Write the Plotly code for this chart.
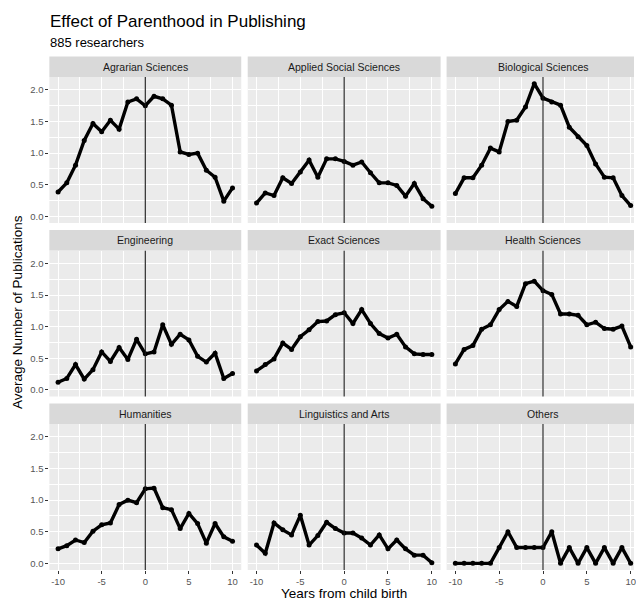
import plotly.graph_objects as go

# ---------------- data ----------------
years = list(range(-10, 11))

panel_titles = ["Agrarian Sciences", "Applied Social Sciences", "Biological Sciences",
                "Engineering", "Exact Sciences", "Health Sciences",
                "Humanities", "Linguistics and Arts", "Others"]

agrarian = [0.385, 0.53, 0.81, 1.20, 1.47, 1.34, 1.52, 1.38, 1.81, 1.86, 1.75,
            1.90, 1.86, 1.76, 1.02, 0.98, 1.00, 0.73, 0.62, 0.24, 0.45]
applied = [0.21, 0.37, 0.33, 0.61, 0.52, 0.70, 0.89, 0.62, 0.91, 0.91, 0.87,
           0.81, 0.86, 0.69, 0.53, 0.53, 0.49, 0.32, 0.52, 0.28, 0.16]
biological = [0.36, 0.61, 0.61, 0.81, 1.08, 1.02, 1.50, 1.52, 1.73, 2.10, 1.87,
              1.81, 1.76, 1.41, 1.26, 1.12, 0.83, 0.62, 0.61, 0.33, 0.17]
engineering = [0.12, 0.18, 0.40, 0.17, 0.32, 0.60, 0.45, 0.67, 0.48, 0.80, 0.57,
               0.60, 1.03, 0.72, 0.88, 0.79, 0.53, 0.44, 0.58, 0.18, 0.26]
exact = [0.30, 0.40, 0.49, 0.74, 0.64, 0.84, 0.95, 1.08, 1.09, 1.19, 1.22,
         1.05, 1.27, 1.05, 0.89, 0.82, 0.88, 0.68, 0.57, 0.56, 0.56]
health = [0.41, 0.64, 0.70, 0.96, 1.03, 1.27, 1.40, 1.32, 1.68, 1.72, 1.57,
          1.51, 1.20, 1.20, 1.18, 1.03, 1.07, 0.97, 0.96, 1.01, 0.68]
humanities = [0.23, 0.28, 0.37, 0.33, 0.51, 0.61, 0.64, 0.93, 1.00, 0.96, 1.18,
              1.19, 0.88, 0.85, 0.55, 0.79, 0.63, 0.32, 0.63, 0.42, 0.35]
linguistics = [0.29, 0.16, 0.64, 0.53, 0.45, 0.76, 0.29, 0.44, 0.65, 0.55, 0.48,
               0.48, 0.40, 0.29, 0.45, 0.23, 0.37, 0.23, 0.13, 0.13, 0.01]
others = [0, 0, 0, 0, 0, 0.25, 0.5, 0.25, 0.25, 0.25, 0.25,
          0.5, 0, 0.25, 0, 0.25, 0, 0.25, 0, 0.25, 0]

series = [agrarian, applied, biological, engineering, exact, health,
          humanities, linguistics, others]

x_tickvals = [-10, -5, 0, 5, 10]
x_ticktext = ["-10", "-5", "0", "5", "10"]
y_tickvals = [0, 0.5, 1.0, 1.5, 2.0]
y_ticktext = ["0.0", "0.5", "1.0", "1.5", "2.0"]

title_text = "Effect of Parenthood in Publishing"
subtitle_text = "885 researchers"
x_title = "Years from child birth"
y_title = "Average Number of Publications"

# ---------------- layout geometry (pixels) ----------------
W, H = 636, 601
FONT = "Liberation Sans, Arial, Helvetica, sans-serif"
col_px = [(49.5, 242.0), (248.5, 442.0), (448.0, 636.0)]
col_full_right = [242.0, 442.0, 642.0]
x_ranges = [[-11, 11], [-11, 11], [-11, 10.38]]
row_px = [(77.0, 223.0), (250.5, 396.5), (424.0, 570.0)]  # panel top, bottom
strip_h = 20.5
y_range = [-0.105, 2.205]


def fx(px):
    return px / W


def fy(py):
    return 1 - py / H


fig = go.Figure()
layout = dict(
    width=W, height=H,
    margin=dict(l=0, r=0, t=0, b=0),
    paper_bgcolor="white",
    plot_bgcolor="#ebebeb",
    showlegend=False,
    font=dict(family=FONT, color="#4d4d4d"),
)
shapes = []
annotations = []

for i in range(9):
    r, c = divmod(i, 3)
    n = i + 1
    xa = "xaxis" if n == 1 else f"xaxis{n}"
    ya = "yaxis" if n == 1 else f"yaxis{n}"
    xr = "x" if n == 1 else f"x{n}"
    yr = "y" if n == 1 else f"y{n}"
    x0, x1 = col_px[c]
    top, bot = row_px[r]

    layout[xa] = dict(
        domain=[fx(x0), fx(x1)], range=x_ranges[c], anchor=yr,
        tickvals=x_tickvals, ticktext=x_ticktext,
        showticklabels=(r == 2), ticks="outside" if r == 2 else "",
        ticklen=3, tickwidth=1, tickcolor="#333333",
        ticklabeloverflow="allow",
        tickfont=dict(size=9.5, color="#555555", family=FONT),
        showgrid=True, gridcolor="white", gridwidth=1.1,
        minor=dict(dtick=2.5, tick0=-10, showgrid=True, gridcolor="white",
                   gridwidth=0.55),
        zeroline=False, showline=False, fixedrange=True,
    )
    layout[ya] = dict(
        domain=[fy(bot), fy(top)], range=y_range, anchor=xr,
        tickvals=y_tickvals, ticktext=y_ticktext,
        showticklabels=(c == 0), ticks="outside" if c == 0 else "",
        ticklen=3, tickwidth=1, tickcolor="#333333",
        tickfont=dict(size=9.5, color="#555555", family=FONT),
        showgrid=True, gridcolor="white", gridwidth=1.1,
        minor=dict(dtick=0.25, tick0=0, showgrid=True, gridcolor="white",
                   gridwidth=0.55),
        zeroline=False, showline=False, fixedrange=True,
    )

    fig.add_trace(go.Scatter(
        x=years, y=series[i], xaxis=xr, yaxis=yr, mode="lines+markers",
        line=dict(color="black", width=3.4),
        marker=dict(color="black", size=5),
        cliponaxis=True, hoverinfo="skip",
    ))

    # vertical reference line at child birth
    shapes.append(dict(type="line", xref=xr, yref=f"{yr} domain",
                       x0=0, x1=0, y0=0, y1=1, layer="above",
                       line=dict(color="#1a1a1a", width=1.1)))
    # strip
    shapes.append(dict(type="rect", xref="paper", yref="paper",
                       x0=fx(x0), x1=fx(x1), y0=fy(top), y1=fy(top - strip_h),
                       fillcolor="#d9d9d9", line=dict(width=0), layer="above"))
    annotations.append(dict(text=panel_titles[i], xref="paper", yref="paper",
                            x=fx((x0 + col_full_right[c]) / 2),
                            y=fy(top - strip_h / 2), xanchor="center", yanchor="middle",
                            showarrow=False,
                            font=dict(size=10.5, color="#1a1a1a", family=FONT)))

annotations += [
    dict(text=title_text, xref="paper", yref="paper", x=fx(48.5), y=fy(21.5),
         xanchor="left", yanchor="middle", showarrow=False,
         font=dict(size=17, color="black", family=FONT)),
    dict(text=subtitle_text, xref="paper", yref="paper", x=fx(48.5), y=fy(42.3),
         xanchor="left", yanchor="middle", showarrow=False,
         font=dict(size=13, color="black", family=FONT)),
    dict(text=x_title, xref="paper", yref="paper", x=fx(345.5), y=fy(593.5),
         xanchor="center", yanchor="middle", showarrow=False,
         font=dict(size=13.5, color="black", family=FONT)),
    dict(text=y_title, xref="paper", yref="paper", x=fx(17), y=fy(312),
         xanchor="center", yanchor="middle", showarrow=False, textangle=-90,
         font=dict(size=13.5, color="black", family=FONT)),
]

layout["shapes"] = shapes
layout["annotations"] = annotations
fig.update_layout(**layout)
fig.write_html(
    "out.html",
    config={"displayModeBar": False},
    post_script="document.body.style.margin='0';document.body.style.overflow='hidden';",
)
